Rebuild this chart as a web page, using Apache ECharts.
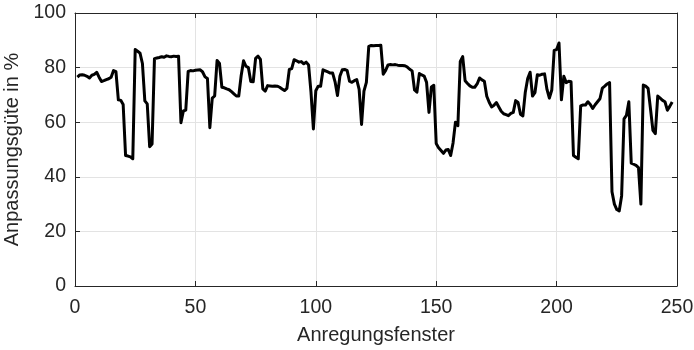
<!DOCTYPE html>
<html>
<head>
<meta charset="utf-8">
<script src="https://cdn.jsdelivr.net/npm/echarts@6/dist/echarts.min.js"></script>
<style>
html,body{margin:0;padding:0;background:#fff;}
#chart{width:694px;height:350px;}
</style>
</head>
<body>
<div id="chart"></div>
<script>
// Anpassungsgüte (%) per Anregungsfenster, starting at window 1
var fitValues = [
76.5,77.3,77.4,77.2,76.8,76.2,77.2,77.5,78.3,76.5,
74.9,75.2,75.6,75.9,76.5,78.9,78.5,68.2,68.0,66.5,
47.8,47.6,47.3,46.6,86.6,86.0,85.3,81.5,67.8,66.7,
51.0,52.0,83.3,83.5,83.7,84.0,83.8,84.3,84.1,84.0,
84.2,84.1,84.2,59.8,64.1,64.4,78.6,78.9,78.8,79.0,
79.1,79.2,78.4,76.6,76.0,58.0,68.8,69.6,82.6,81.5,
72.8,72.6,72.2,71.9,71.2,70.4,69.6,69.6,77.0,82.5,
80.5,80.0,74.9,74.8,83.4,84.2,83.0,72.2,71.4,73.4,
73.3,73.2,73.3,73.2,72.8,72.2,71.6,72.4,79.3,79.6,
82.9,82.5,82.0,82.2,81.4,82.0,81.0,71.0,57.5,71.5,
73.2,73.2,79.2,78.8,78.4,78.0,78.0,74.8,69.8,76.8,
79.2,79.3,79.0,75.0,74.6,75.2,75.6,72.0,59.2,71.4,
74.6,87.8,88.1,88.0,88.1,88.1,88.2,77.6,79.0,81.0,
81.1,81.0,81.1,80.9,80.8,80.8,80.7,80.2,79.4,78.8,
71.8,71.0,77.8,77.3,76.9,74.6,63.6,72.9,73.5,52.2,
50.6,49.6,48.6,49.8,50.0,47.8,52.4,60.0,58.7,82.3,
84.0,75.2,74.2,73.3,72.8,72.8,74.0,76.2,75.5,75.0,
69.5,67.3,65.6,66.2,67.2,65.6,64.0,63.1,62.8,62.4,
63.2,63.6,67.9,67.2,62.9,62.3,71.0,76.0,78.3,69.6,
70.8,77.4,77.2,77.6,77.7,72.0,68.8,71.8,86.3,86.6,
89.0,68.2,76.8,74.5,75.0,74.8,47.8,47.2,46.6,66.0,
66.3,66.3,67.5,66.5,65.0,66.4,67.5,68.6,72.5,73.2,
74.0,74.5,34.5,30.0,28.0,27.5,33.0,61.2,62.5,67.5,
45.0,44.6,44.2,43.4,30.0,73.6,73.2,72.4,64.8,57.0,
55.8,69.6,68.8,68.0,67.5,64.4,65.8,67.4
];
var firstWindow = 1;
var xTicks = [0, 50, 100, 150, 200, 250];
var yTicks = [0, 20, 40, 60, 80, 100];
var xLabel = 'Anregungsfenster';
var yLabel = 'Anpassungsgüte in %';

var seriesData = fitValues.map(function (v, i) { return [firstWindow + i, v]; });

var axisColor = '#262626';
var gridColor = '#e3e3e3';
var font = 'Arial, "Liberation Sans", Helvetica, sans-serif';

var chart = echarts.init(document.getElementById('chart'), null, {renderer: 'canvas'});
function mkX(pos, show) {
  return {
    type: 'value', position: pos, min: xTicks[0], max: xTicks[xTicks.length - 1], interval: 50,
    name: show ? xLabel : '', nameLocation: 'middle', nameGap: 39,
    nameTextStyle: {fontFamily: font, fontSize: 20, color: axisColor},
    axisLine: {show: true, onZero: false, lineStyle: {color: axisColor, width: 1}},
    axisTick: {show: true, inside: true, length: 5, lineStyle: {color: axisColor}},
    axisLabel: {show: show, fontFamily: font, fontSize: 19.5, color: axisColor, margin: 12},
    splitLine: {show: show, lineStyle: {color: gridColor, width: 1}}
  };
}
function mkY(pos, show) {
  return {
    type: 'value', position: pos, min: yTicks[0], max: yTicks[yTicks.length - 1], interval: 20,
    name: show ? yLabel : '', nameLocation: 'middle', nameGap: 51, nameRotate: 90,
    nameTextStyle: {fontFamily: font, fontSize: 20, color: axisColor},
    axisLine: {show: true, onZero: false, lineStyle: {color: axisColor, width: 1}},
    axisTick: {show: true, inside: true, length: 5, lineStyle: {color: axisColor}},
    axisLabel: {show: show, fontFamily: font, fontSize: 19.5, color: axisColor, margin: 9},
    splitLine: {show: show, lineStyle: {color: gridColor, width: 1}}
  };
}
chart.setOption({
  animation: false,
  backgroundColor: '#ffffff',
  grid: {left: 75, right: 17, top: 13, bottom: 64, containLabel: false, outerBoundsMode: 'none'},
  xAxis: [mkX('bottom', true), mkX('top', false)],
  yAxis: [mkY('left', true), mkY('right', false)],
  series: [{
    type: 'line',
    data: seriesData,
    xAxisIndex: 0, yAxisIndex: 0,
    showSymbol: false,
    smooth: false,
    lineStyle: {color: '#000000', width: 3, join: 'round'},
    z: 5
  }]
});
</script>
</body>
</html>
